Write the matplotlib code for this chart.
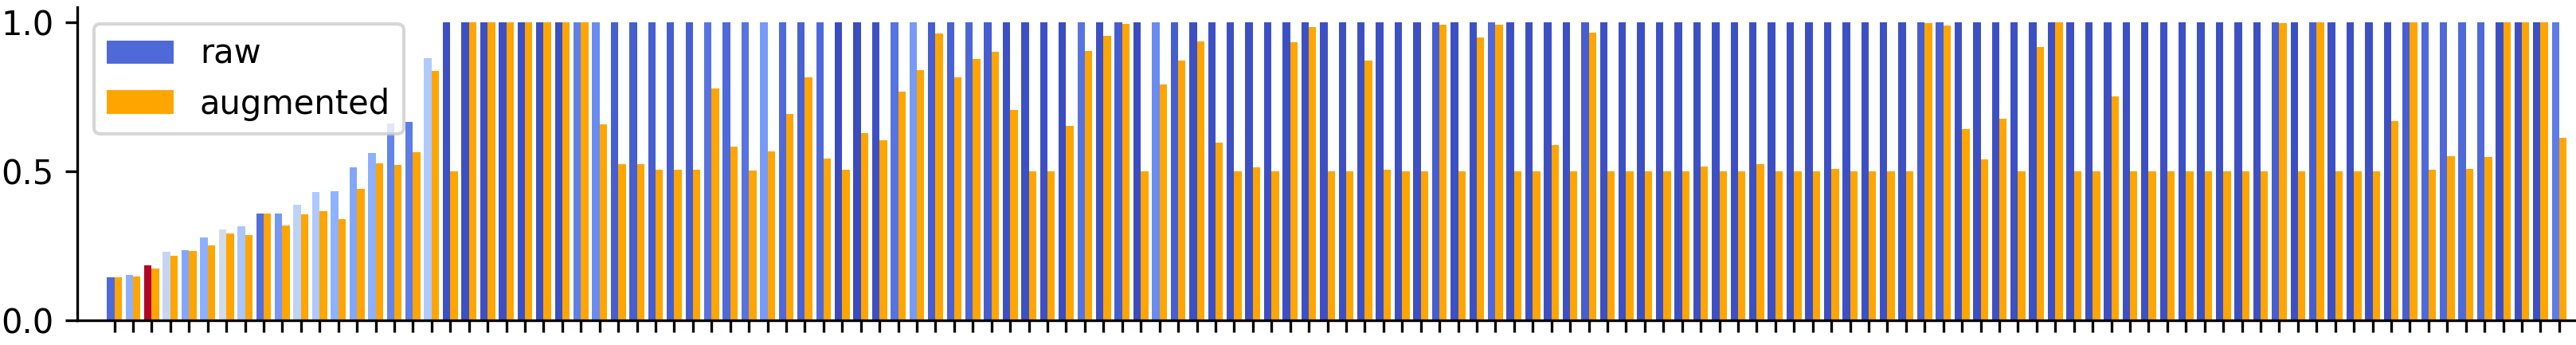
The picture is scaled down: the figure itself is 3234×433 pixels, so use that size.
import numpy as np
import matplotlib
matplotlib.use("Agg")
import matplotlib.pyplot as plt

# score of the raw sample, per item (sorted by raw score)
raw = [
    0.144, 0.152, 0.184, 0.229, 0.235, 0.277, 0.304, 0.315, 0.358, 0.358,
    0.387, 0.430, 0.433, 0.513, 0.561, 0.660, 0.665, 0.880, 1.0, 1.0,
    1.0, 1.0, 1.0, 1.0, 1.0, 1.0, 1.0, 1.0, 1.0, 1.0,
    1.0, 1.0, 1.0, 1.0, 1.0, 1.0, 1.0, 1.0, 1.0, 1.0,
    1.0, 1.0, 1.0, 1.0, 1.0, 1.0, 1.0, 1.0, 1.0, 1.0,
    1.0, 1.0, 1.0, 1.0, 1.0, 1.0, 1.0, 1.0, 1.0, 1.0,
    1.0, 1.0, 1.0, 1.0, 1.0, 1.0, 1.0, 1.0, 1.0, 1.0,
    1.0, 1.0, 1.0, 1.0, 1.0, 1.0, 1.0, 1.0, 1.0, 1.0,
    1.0, 1.0, 1.0, 1.0, 1.0, 1.0, 1.0, 1.0, 1.0, 1.0,
    1.0, 1.0, 1.0, 1.0, 1.0, 1.0, 1.0, 1.0, 1.0, 1.0,
    1.0, 1.0, 1.0, 1.0, 1.0, 1.0, 1.0, 1.0, 1.0, 1.0,
    1.0, 1.0, 1.0, 1.0, 1.0, 1.0, 1.0, 1.0, 1.0, 1.0,
    1.0, 1.0, 1.0, 1.0, 1.0, 1.0, 1.0, 1.0, 1.0, 1.0,
    1.0, 1.0,
]

# score after augmentation
augmented = [
    0.144, 0.146, 0.173, 0.216, 0.232, 0.251, 0.291, 0.285, 0.358, 0.318,
    0.355, 0.366, 0.339, 0.441, 0.526, 0.521, 0.564, 0.837, 0.500, 1.000,
    1.000, 1.000, 1.000, 1.000, 1.000, 1.000, 0.657, 0.524, 0.524, 0.505,
    0.505, 0.505, 0.778, 0.583, 0.502, 0.566, 0.692, 0.815, 0.542, 0.505,
    0.628, 0.604, 0.767, 0.839, 0.963, 0.815, 0.877, 0.901, 0.706, 0.500,
    0.500, 0.652, 0.904, 0.955, 0.995, 0.500, 0.791, 0.872, 0.936, 0.596,
    0.500, 0.513, 0.500, 0.933, 0.984, 0.500, 0.500, 0.872, 0.505, 0.500,
    0.500, 0.992, 0.500, 0.949, 0.992, 0.500, 0.500, 0.588, 0.500, 0.965,
    0.500, 0.500, 0.500, 0.500, 0.500, 0.516, 0.500, 0.500, 0.524, 0.500,
    0.500, 0.500, 0.508, 0.500, 0.500, 0.500, 0.500, 0.997, 0.989, 0.641,
    0.540, 0.676, 0.500, 0.917, 1.000, 0.500, 0.500, 0.751, 0.500, 0.500,
    0.500, 0.500, 0.500, 0.500, 0.500, 0.500, 0.997, 0.500, 1.000, 0.500,
    0.500, 0.500, 0.668, 1.000, 0.505, 0.550, 0.508, 0.548, 1.000, 1.000,
    1.000, 0.612,
]

# value used to colour the raw bars (coolwarm colormap)
raw_shade = [
    0.07, 0.25, 1.00, 0.42, 0.22, 0.25, 0.46, 0.33, 0.08, 0.18,
    0.39, 0.34, 0.26, 0.22, 0.25, 0.13, 0.11, 0.35, 0.01, 0.01,
    0.01, 0.01, 0.01, 0.01, 0.01, 0.12, 0.15, 0.04, 0.04, 0.04,
    0.04, 0.04, 0.09, 0.07, 0.09, 0.19, 0.07, 0.05, 0.07, 0.00,
    0.00, 0.01, 0.09, 0.19, 0.04, 0.05, 0.06, 0.04, 0.01, 0.01,
    0.01, 0.00, 0.09, 0.01, 0.04, 0.00, 0.15, 0.04, 0.01, 0.01,
    0.01, 0.01, 0.01, 0.01, 0.01, 0.01, 0.01, 0.01, 0.01, 0.01,
    0.01, 0.04, 0.01, 0.01, 0.07, 0.01, 0.01, 0.01, 0.01, 0.04,
    0.01, 0.01, 0.01, 0.01, 0.01, 0.01, 0.01, 0.01, 0.01, 0.01,
    0.01, 0.01, 0.01, 0.01, 0.01, 0.01, 0.01, 0.04, 0.05, 0.01,
    0.01, 0.01, 0.01, 0.01, 0.01, 0.01, 0.01, 0.01, 0.01, 0.01,
    0.01, 0.01, 0.01, 0.01, 0.01, 0.01, 0.04, 0.01, 0.04, 0.01,
    0.01, 0.01, 0.01, 0.04, 0.07, 0.07, 0.07, 0.07, 0.01, 0.01,
    0.01, 0.11,
]

x = np.arange(len(raw))
width = 0.4

fig = plt.figure(figsize=(3234 / 300, 433 / 300), dpi=300)
ax = fig.add_axes([0.0299, 0.0723, 0.9701, 0.9062])

cmap = plt.get_cmap("coolwarm")
ax.bar(x - width / 2, raw, width, color=cmap(np.array(raw_shade)), label="raw")
ax.bar(x + width / 2, augmented, width, color="orange", label="augmented")

ax.set_xticks(x)
ax.set_xticklabels([])
ax.set_yticks([0.0, 0.5, 1.0])
ax.set_xlim(-2, 131.9)
ax.set_ylim(0, 1.05)
ax.spines["top"].set_visible(False)
ax.spines["right"].set_visible(False)
ax.legend(loc="upper left")

fig.savefig("out.png", dpi=300)
